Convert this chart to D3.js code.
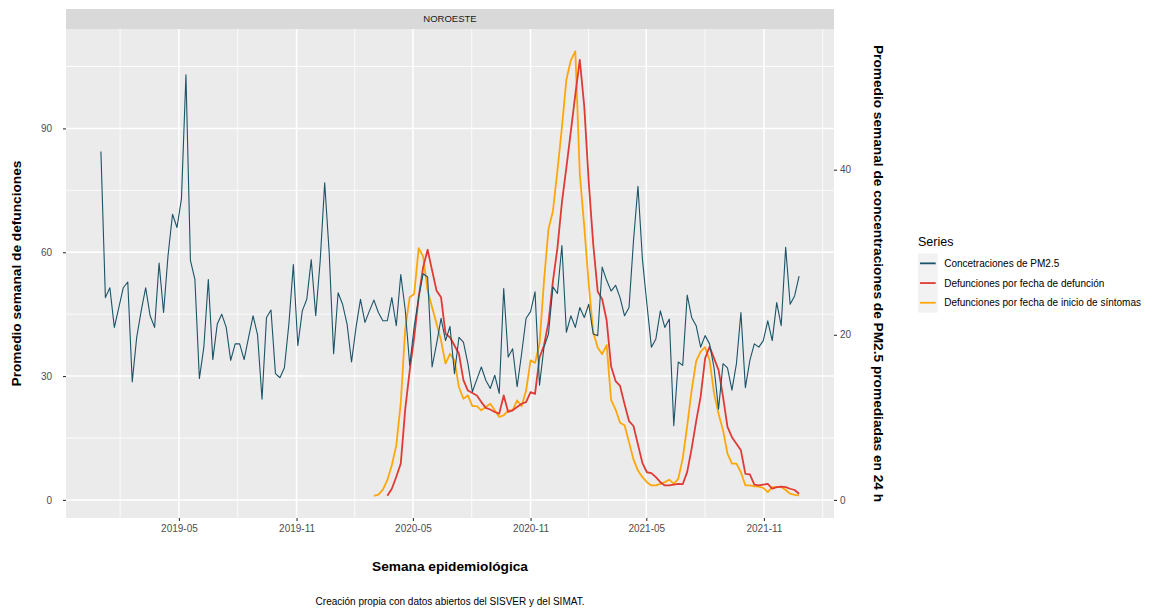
<!DOCTYPE html>
<html>
<head>
<meta charset="utf-8">
<script src="https://cdn.jsdelivr.net/npm/d3@7"></script>
<style>
  body { margin: 0; background: #ffffff; }
  text { font-family: "Liberation Sans", Arial, sans-serif; }
</style>
</head>
<body>
<svg id="chart" width="1153" height="612"></svg>
<script>
// Semanas epidemiológicas (domingo de inicio de la primera semana)
const primeraSemana = "2018-12-30";

// Concentración semanal promedio de PM2.5 (µg/m³), región Noroeste
const pm25 = [
  42.2, 24.5, 25.7, 20.9, 23.3, 25.7, 26.4, 14.3, 19.7, 22.9, 25.7, 22.3, 20.9, 28.7, 22.7, 29.6,
  34.6, 33.0, 36.5, 51.5, 29.0, 26.7, 14.7, 18.5, 26.7, 17.0, 21.3, 22.5, 20.9, 16.9, 18.9, 18.9,
  17.0, 19.7, 22.3, 20.0,
  12.2, 22.1, 23.0, 15.3, 14.8, 16.0, 21.3, 28.5, 18.7, 22.9, 24.3, 29.1, 22.3, 29.0, 38.4, 30.0,
  17.7, 25.1, 23.7, 21.3, 16.7, 20.9, 24.3, 21.5, 22.9, 24.2, 22.7, 21.7, 21.7, 24.5, 21.1, 27.3,
  23.0, 16.3, 21.0, 24.5, 27.4, 27.0, 16.1, 18.9, 22.0, 19.3, 21.0, 15.3, 19.7, 19.1, 16.5, 13.1,
  14.6, 16.1, 14.5, 13.5, 15.1, 12.9, 25.6, 17.3, 18.3, 13.7, 17.7, 22.0, 22.8, 25.2, 13.9, 18.5,
  20.1, 25.8, 25.0,
  30.8, 20.3, 22.3, 20.9, 23.3, 22.1, 23.7, 20.1, 19.9, 28.2, 26.6, 25.3, 26.0, 24.5, 22.3, 23.3,
  31.4, 38.0,
  29.1, 23.7, 18.5, 19.5, 22.9, 20.9, 21.9, 9.0, 16.7, 16.3, 24.8, 22.1, 21.1, 18.5, 19.9, 18.9,
  16.0, 11.0, 16.5, 16.0, 13.3, 16.5, 22.7, 13.6, 16.9, 18.9, 18.5, 19.3, 21.7, 19.3, 23.9, 21.1,
  30.6, 23.7, 24.7, 27.1
];

// Defunciones por fecha de defunción (promedio semanal); empieza en la semana 64
const semanaInicioDefuncion = 64;
const defPorDefuncion = [
  1.0, 2.7, 5.6, 8.8, 22.0, 31.4, 39.4, 49.1, 56.4, 60.6, 55.6, 50.7, 49.1, 40.2, 39.4, 37.4,
  35.4, 29.0, 26.5, 25.9, 25.3, 23.7, 22.3, 21.9, 21.3, 20.9, 25.3, 21.3, 21.7, 22.5, 23.3, 23.7,
  26.1, 25.7, 34.5, 37.4, 43.0, 53.0, 61.0, 72.0, 80.5, 89.3, 98.2, 106.6, 95.3, 77.0, 62.0, 50.5,
  48.6, 43.5, 32.3, 28.8, 27.6, 23.2, 19.1, 17.9, 13.4, 8.9, 6.7, 6.5, 5.5, 4.3, 3.5, 3.5,
  3.7, 3.9, 3.8, 6.8, 12.5, 19.0, 25.0, 34.3, 37.1, 34.3, 31.5, 25.0, 17.7, 15.2, 13.6, 12.0,
  6.3, 6.2, 3.7, 3.5, 3.7, 3.9, 2.7, 3.1, 3.2, 3.1, 2.7, 2.4, 1.5
];

// Defunciones por fecha de inicio de síntomas (promedio semanal); empieza en la semana 61
const semanaInicioSintomas = 61;
const defPorSintomas = [
  1.0, 1.3, 2.5, 4.8, 8.4, 13.2, 23.5, 41.5, 49.1, 49.9, 61.0, 59.0, 50.7, 46.7, 42.7, 38.6,
  33.0, 35.4, 33.8, 27.3, 24.5, 25.3, 22.7, 22.7, 21.7, 22.5, 23.3, 21.7, 20.1, 20.5, 21.7, 21.7,
  24.1, 22.7, 26.5, 33.8, 33.2, 37.8, 53.0, 65.6, 70.0, 79.7, 90.2, 101.8, 106.5, 108.7, 79.0, 66.2,
  52.3, 40.6, 36.9, 35.3, 37.5, 24.2, 21.9, 18.7, 18.1, 14.0, 9.8, 7.1, 5.5, 4.3, 3.5, 3.5,
  3.9, 4.3, 4.9, 3.9, 5.1, 10.0, 18.0, 26.6, 33.6, 35.9, 37.0, 33.9, 25.8, 20.9, 16.9, 11.2,
  8.8, 8.8, 6.7, 3.5, 3.5, 3.3, 3.2, 2.9, 1.9, 3.1, 3.1, 3.1, 2.4, 1.5, 1.2, 1.1
];

// Etiquetas y cortes de los ejes
const cortesX = ["2019-05-01", "2019-11-01", "2020-05-01", "2020-11-01", "2021-05-01", "2021-11-01"];
const cortesIzq = [0, 30, 60, 90];
const cortesDer = [0, 20, 40];
const nombresSeries = ["Concetraciones de PM2.5", "Defunciones por fecha de defunción", "Defunciones por fecha de inicio de síntomas"];
const coloresSeries = ["#1A5468", "#E03A34", "#FFA70A"];

// ---- geometría del panel ----
const panel = { left: 66, right: 834, top: 29, bottom: 518 };
const tira = { top: 9, bottom: 29 };

const svg = d3.select("#chart");
const parse = d3.utcParse("%Y-%m-%d");
const t0 = parse(primeraSemana);
const semana = i => d3.utcDay.offset(t0, 7 * i);

const serPM = pm25.map((v, i) => ({ fecha: semana(i), valor: v * 2 }));
const serDef = defPorDefuncion.map((v, i) => ({ fecha: semana(semanaInicioDefuncion + i), valor: v }));
const serSin = defPorSintomas.map((v, i) => ({ fecha: semana(semanaInicioSintomas + i), valor: v }));
const todas = serPM.concat(serDef, serSin);

// escalas con la expansión de 5 % a cada lado
const extX = d3.extent(todas, d => d.fecha);
const padX = (extX[1] - extX[0]) * 0.05;
const x = d3.scaleUtc()
  .domain([new Date(+extX[0] - padX), new Date(+extX[1] + padX)])
  .range([panel.left, panel.right]);

const extY = d3.extent(todas, d => d.valor);
const padY = (extY[1] - extY[0]) * 0.05;
const y = d3.scaleLinear()
  .domain([extY[0] - padY, extY[1] + padY])
  .range([panel.bottom, panel.top]);
// eje secundario: concentración = valor primario / 2
const yDer = d3.scaleLinear()
  .domain(y.domain().map(v => v / 2))
  .range(y.range());

// fondo del panel
svg.append("rect")
  .attr("x", panel.left).attr("y", panel.top)
  .attr("width", panel.right - panel.left).attr("height", panel.bottom - panel.top)
  .attr("fill", "#EBEBEB");

// rejilla
const mayoresX = cortesX.map(parse);
const menoresX = [];
for (let k = 0; k < mayoresX.length - 1; k++) menoresX.push(new Date((+mayoresX[k] + +mayoresX[k + 1]) / 2));
menoresX.unshift(new Date(+mayoresX[0] - (mayoresX[1] - mayoresX[0]) / 2));
menoresX.push(new Date(+mayoresX[mayoresX.length - 1] + (mayoresX[mayoresX.length - 1] - mayoresX[mayoresX.length - 2]) / 2));
const menoresY = [];
for (let k = 0; k < cortesIzq.length - 1; k++) menoresY.push((cortesIzq[k] + cortesIzq[k + 1]) / 2);
menoresY.push(cortesIzq[cortesIzq.length - 1] + 15);

const rejilla = svg.append("g").attr("stroke", "#FFFFFF");
rejilla.selectAll(".mx").data(menoresX.filter(d => x(d) > panel.left && x(d) < panel.right)).join("line")
  .attr("x1", d => x(d)).attr("x2", d => x(d))
  .attr("y1", panel.top).attr("y2", panel.bottom).attr("stroke-width", 0.8);
rejilla.selectAll(".my").data(menoresY.filter(v => y(v) > panel.top)).join("line")
  .attr("x1", panel.left).attr("x2", panel.right)
  .attr("y1", d => y(d)).attr("y2", d => y(d)).attr("stroke-width", 0.8);
rejilla.selectAll(".Mx").data(mayoresX).join("line")
  .attr("x1", d => x(d)).attr("x2", d => x(d))
  .attr("y1", panel.top).attr("y2", panel.bottom).attr("stroke-width", 1.5);
rejilla.selectAll(".My").data(cortesIzq).join("line")
  .attr("x1", panel.left).attr("x2", panel.right)
  .attr("y1", d => y(d)).attr("y2", d => y(d)).attr("stroke-width", 1.5);

// líneas de las series
const linea = d3.line().x(d => x(d.fecha)).y(d => y(d.valor));
const capas = [
  { datos: serSin, color: coloresSeries[2], ancho: 1.8 },
  { datos: serDef, color: coloresSeries[1], ancho: 1.8 },
  { datos: serPM, color: coloresSeries[0], ancho: 1.1 }
];
svg.append("g").selectAll("path").data(capas).join("path")
  .attr("d", c => linea(c.datos))
  .attr("fill", "none")
  .attr("stroke", c => c.color)
  .attr("stroke-width", c => c.ancho)
  .attr("stroke-linejoin", "round");

// tira del panel
svg.append("rect")
  .attr("x", panel.left).attr("y", tira.top)
  .attr("width", panel.right - panel.left).attr("height", tira.bottom - tira.top)
  .attr("fill", "#D9D9D9");
svg.append("text")
  .attr("x", (panel.left + panel.right) / 2).attr("y", (tira.top + tira.bottom) / 2)
  .attr("dy", "0.35em").attr("text-anchor", "middle")
  .attr("font-size", 9.5).attr("fill", "#1A1A1A")
  .text("NOROESTE");

// ejes
function estiloEje(g) {
  g.select(".domain").remove();
  g.selectAll(".tick line").attr("stroke", "#333333").attr("stroke-width", 1.1);
  g.selectAll(".tick text").attr("fill", "#4D4D4D").attr("font-size", 10)
    .attr("font-family", "'Liberation Sans', Arial, sans-serif");
}
svg.append("g")
  .attr("transform", `translate(0,${panel.bottom})`)
  .call(d3.axisBottom(x).tickValues(mayoresX).tickFormat(d3.utcFormat("%Y-%m")).tickSize(3).tickPadding(4))
  .call(estiloEje);
const ejeIzq = svg.append("g")
  .attr("transform", `translate(${panel.left},0)`)
  .call(d3.axisLeft(y).tickValues(cortesIzq).tickSize(3).tickPadding(11))
  .call(estiloEje);
svg.append("g")
  .attr("transform", `translate(${panel.right},0)`)
  .call(d3.axisRight(yDer).tickValues(cortesDer).tickSize(3).tickPadding(3))
  .call(estiloEje);

// títulos de ejes
const midY = (panel.top + panel.bottom) / 2;
svg.append("text")
  .attr("transform", `translate(21,${midY}) rotate(-90)`)
  .attr("text-anchor", "middle").attr("font-size", 13.7).attr("font-weight", "bold").attr("fill", "#000")
  .text("Promedio semanal de defunciones");
svg.append("text")
  .attr("transform", `translate(874,${midY}) rotate(90)`)
  .attr("text-anchor", "middle").attr("font-size", 13.7).attr("font-weight", "bold").attr("fill", "#000")
  .text("Promedio semanal de concentraciones de PM2.5 promediadas en 24 h");
svg.append("text")
  .attr("x", (panel.left + panel.right) / 2).attr("y", 571)
  .attr("text-anchor", "middle").attr("font-size", 13.7).attr("font-weight", "bold").attr("fill", "#000")
  .text("Semana epidemiológica");
svg.append("text")
  .attr("x", (panel.left + panel.right) / 2).attr("y", 605)
  .attr("text-anchor", "middle").attr("font-size", 10).attr("fill", "#000")
  .text("Creación propia con datos abiertos del SISVER y del SIMAT.");

// leyenda
const leyenda = svg.append("g").attr("transform", "translate(918,0)");
leyenda.append("text").attr("x", 0).attr("y", 246).attr("font-size", 12.5).attr("fill", "#000").text("Series");
const paso = 19.7;
const filas = leyenda.selectAll("g.fila").data(nombresSeries).join("g")
  .attr("transform", (d, i) => `translate(0,${253.5 + i * paso})`);
filas.append("rect").attr("width", paso).attr("height", paso).attr("fill", "#F2F2F2");
filas.append("line")
  .attr("x1", 2).attr("x2", paso - 2).attr("y1", paso / 2).attr("y2", paso / 2)
  .attr("stroke", (d, i) => coloresSeries[i]).attr("stroke-width", 1.8);
filas.append("text")
  .attr("x", paso + 6.5).attr("y", paso / 2).attr("dy", "0.35em")
  .attr("font-size", 10).attr("fill", "#000")
  .text(d => d);
</script>
</body>
</html>
